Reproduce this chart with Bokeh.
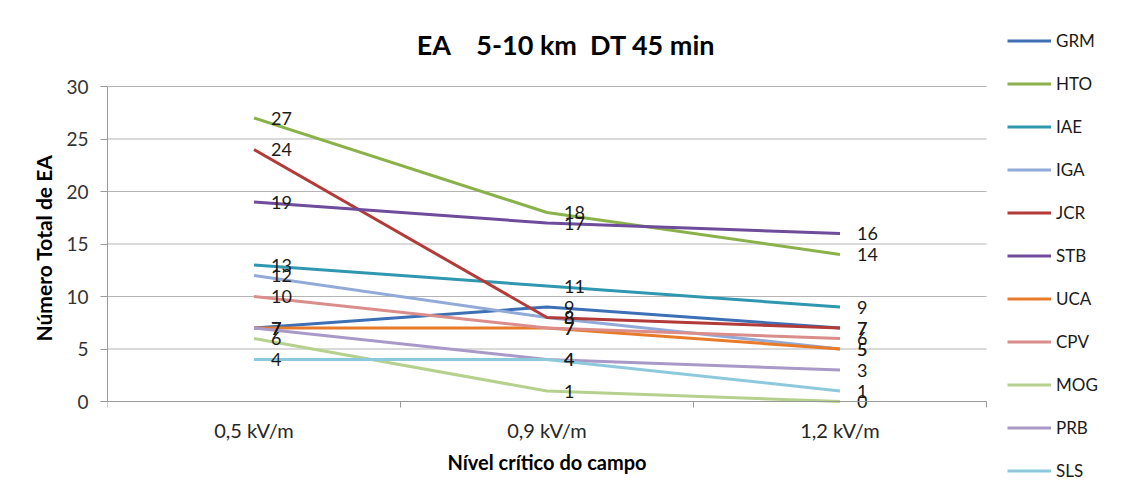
from bokeh.plotting import figure
from bokeh.models import (Range1d, FixedTicker, Legend, LegendItem, ColumnDataSource, Label)
from bokeh.core.properties import value
from bokeh.embed import file_html
from bokeh.resources import INLINE

categories = ["0,5 kV/m", "0,9 kV/m", "1,2 kV/m"]
series_names = ["GRM", "HTO", "IAE", "IGA", "JCR", "STB", "UCA", "CPV", "MOG", "PRB", "SLS"]
GRM = [7, 9, 7]
HTO = [27, 18, 14]
IAE = [13, 11, 9]
IGA = [12, 8, 5]
JCR = [24, 8, 7]
STB = [19, 17, 16]
UCA = [7, 7, 5]
CPV = [10, 7, 6]
MOG = [6, 1, 0]
PRB = [7, 4, 3]
SLS = [4, 4, 1]
series_values = [GRM, HTO, IAE, IGA, JCR, STB, UCA, CPV, MOG, PRB, SLS]
colors = ["#3D6FB5", "#8BB14A", "#2F97B0", "#91AAD8", "#B23B39", "#6E4B9B",
          "#E87B2A", "#DA8D8B", "#B6D08D", "#A999C8", "#8DC9DC"]
y_ticks = [0, 5, 10, 15, 20, 25, 30]

FONT = "Lato"
NB = "\u00a0"
title_text = "EA" + NB * 4 + "5-10 km" + NB * 2 + "DT 45 min"

# layout (pixels): plot area 107..986 x 86..401 inside a 1121x495 canvas
W, H = 1121, 495
LEFT, RIGHT, TOP, BOTTOM = 107, 986, 86, 401
ncat = len(categories)
ymin, ymax = y_ticks[0], y_ticks[-1]
px_per_x = (RIGHT - LEFT) / ncat
px_per_y = (BOTTOM - TOP) / (ymax - ymin)

p = figure(width=W, height=H, output_backend="svg", toolbar_location=None,
           x_range=Range1d(0, (W - LEFT) / px_per_x),
           y_range=Range1d(ymin - (H - BOTTOM) / px_per_y, ymax + TOP / px_per_y),
           min_border_left=LEFT, min_border_right=0, min_border_top=0, min_border_bottom=0)

p.outline_line_color = None
p.background_fill_color = "white"
p.border_fill_color = "white"
p.xgrid.grid_line_color = None
p.ygrid.grid_line_color = None

# horizontal gridlines at the y ticks, across the category area only
p.segment(x0=[0] * len(y_ticks), x1=[ncat] * len(y_ticks), y0=y_ticks, y1=y_ticks,
          line_color="#b5b5b5", line_width=1)

xs = [i + 0.5 for i in range(ncat)]
xax = p.xaxis[0]
xax.fixed_location = ymin
xax.bounds = (0, ncat)
xax.ticker = FixedTicker(ticks=xs, minor_ticks=list(range(ncat + 1)))
xax.major_label_overrides = {x: c for x, c in zip(xs, categories)}
xax.major_tick_out = 0
xax.major_tick_in = 0
xax.minor_tick_out = 6
xax.minor_tick_in = 0
xax.minor_tick_line_color = "#9a9a9a"
xax.axis_line_color = "#9a9a9a"
xax.major_label_text_font = FONT
xax.major_label_text_font_size = "20px"
xax.major_label_text_color = "#262626"
xax.major_label_standoff = 10
xax.axis_label = "Nível crítico do campo"
xax.axis_label_text_font = FONT
xax.axis_label_text_font_size = "20px"
xax.axis_label_text_font_style = "bold"
xax.axis_label_text_color = "#000000"
xax.axis_label_standoff = 5

yax = p.yaxis[0]
yax.bounds = (ymin, ymax)
yax.ticker = FixedTicker(ticks=y_ticks, minor_ticks=[])
yax.major_tick_out = 7
yax.major_tick_in = 0
yax.major_tick_line_color = "#9a9a9a"
yax.axis_line_color = "#9a9a9a"
yax.major_label_text_font = FONT
yax.major_label_text_font_size = "19px"
yax.major_label_text_color = "#333333"
yax.major_label_standoff = 12
yax.axis_label = "Número Total de EA"
yax.axis_label_text_font = FONT
yax.axis_label_text_font_size = "21px"
yax.axis_label_text_font_style = "bold"
yax.axis_label_text_color = "#000000"
yax.axis_label_standoff = 7

items = []
for name, vals, col in zip(series_names, series_values, colors):
    r = p.line(xs, vals, line_color=col, line_width=3)
    items.append(LegendItem(label=name, renderers=[r]))

for name, vals in zip(series_names, series_values):
    src = ColumnDataSource(dict(x=xs, y=vals, t=[str(v) for v in vals]))
    p.text(x="x", y="y", text="t", source=src, x_offset=17,
           text_align="left", text_baseline="middle",
           text_font=value(FONT), text_font_size="18px", text_color="#1a1a1a")

title = Label(x=ncat / 2, y=ymax, x_offset=19, y_offset=42, text=title_text,
              text_align="center", text_baseline="middle",
              text_font=FONT, text_font_size="27px", text_font_style="bold",
              text_color="#000000")
p.add_layout(title)

legend = Legend(items=items, location=(1007 - LEFT, 14), orientation="vertical",
                glyph_width=44, glyph_height=21, label_height=21, spacing=22,
                label_standoff=5, padding=0, margin=0,
                border_line_color=None, background_fill_alpha=0,
                label_text_font=FONT, label_text_font_size="17px",
                label_text_color="#1a1a1a")
p.add_layout(legend, "center")

open("out.html", "w").write(file_html(p, INLINE))
